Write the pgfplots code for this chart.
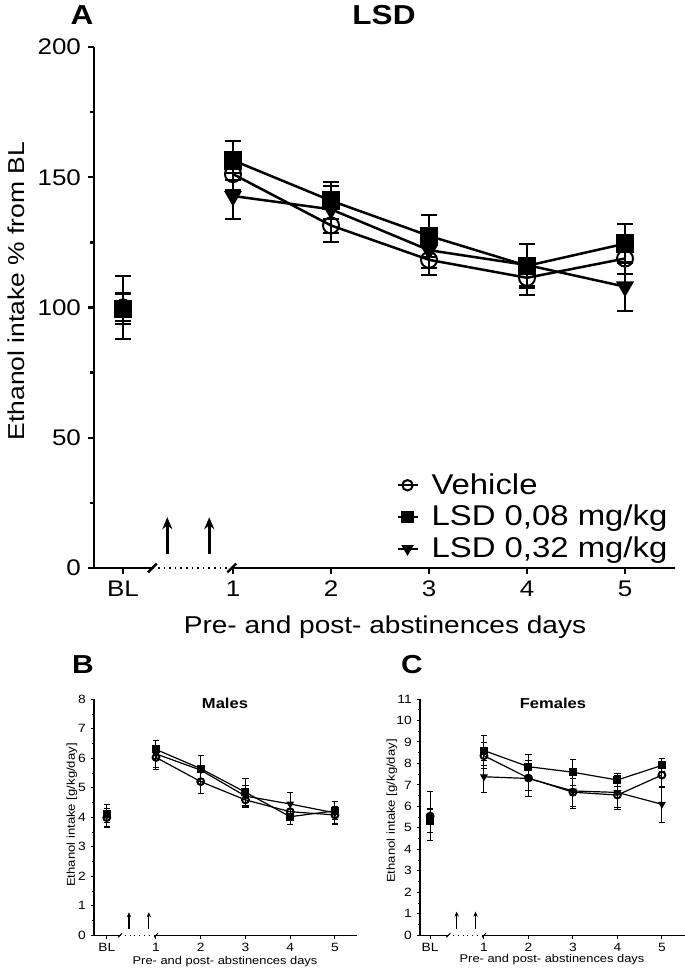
\documentclass[border=0pt]{standalone}
\usepackage{pgfplots}
\pgfplotsset{compat=1.18}
\usepackage{fontspec}
\setmainfont[FakeStretch=1.15]{Liberation Sans}
\usetikzlibrary{arrows.meta}
\pgfplotsset{
  serA/.style={black, line width=1.25pt, mark size=4pt,
    error bars/y dir=both, error bars/y explicit,
    error bars/error bar style={line width=1pt},
    error bars/error mark options={rotate=90, mark size=4pt, line width=1pt}},
  serB/.style={black, line width=0.6pt, mark size=1.7pt,
    error bars/y dir=both, error bars/y explicit,
    error bars/error bar style={line width=0.5pt},
    error bars/error mark options={rotate=90, mark size=1.6pt, line width=0.5pt}},
  veh/.style={mark=o, mark options={solid, line width=1pt}},
  low/.style={mark=square*, mark options={solid}},
  high/.style={mark=triangle*, mark options={solid, rotate=180}},
  small/.style={
    scale only axis, axis lines*=left, x axis line style={draw=none},
    y axis line style={line width=0.6pt},
    tick align=outside, major tick length=1.6pt, minor tick length=1pt,
    tick style={line width=0.5pt, black},
    tick label style={font=\fontsize{6}{7}\selectfont},
    /pgf/number format/assume math mode=true,
    xticklabel style={yshift=1pt}, yticklabel style={xshift=1pt},
    clip=false, unbounded coords=jump},
}
\begin{document}
\begin{tikzpicture}
\path[use as bounding box] (0,0) rectangle (342.5pt,485pt);
% ---------------- Panel A ----------------
\begin{axis}[
  at={(47pt,201pt)}, anchor=south west,
  scale only axis, width=290.5pt, height=260.5pt,
  xmin=-0.418, xmax=5.51, ymin=0, ymax=200,
  axis lines*=left, x axis line style={draw=none},
  y axis line style={line width=1.4pt},
  xtick={-0.122,1,2,3,4,5}, xticklabels={BL,1,2,3,4,5},
  ytick={0,50,100,150,200}, minor ytick={25,75,125,175},
  tick align=outside, major tick length=3pt, minor tick length=2pt,
  tick style={line width=1.2pt, black},
  tick label style={font=\fontsize{11.3}{13}\selectfont},
  /pgf/number format/assume math mode=true,
  clip=false, unbounded coords=jump,
  legend style={at={(axis description cs:0.52,0.19)}, anchor=north west,
    draw=none, fill=none, font=\fontsize{14.3}{16}\selectfont,
    inner sep=0pt, row sep=0pt,
    /tikz/every odd column/.append style={column sep=4.5pt}},
  legend cell align=left,
  legend image code/.code={\draw[mark repeat=2,mark phase=2,#1,mark size=2.6pt,line width=1pt] plot coordinates {(0pt,0pt)(5pt,0pt)(10pt,0pt)};},
]
\addplot+[serA, veh] table[y error=ey] {
x y ey
-0.122 100 5
0.5 nan 0
1 151.2 6
2 131.5 6.5
3 118.3 5.8
4 111.4 6.6
5 118.8 6
};
\addlegendentry{Vehicle}
\addplot+[serA, low] table[y error=ey] {
x y ey
-0.122 99.5 6
0.5 nan 0
1 156.5 7.5
2 141 7
3 127.5 8
4 116 8.5
5 124.5 7.5
};
\addlegendentry{LSD 0,08 mg/kg}
\addplot+[serA, high] table[y error=ey] {
x y ey
-0.122 100 12
0.5 nan 0
1 142.8 8.7
2 137.7 9
3 122 7
4 116.3 8
5 108 9.3
};
\addlegendentry{LSD 0,32 mg/kg}
% broken x axis
\draw[line width=1.4pt] (axis cs:-0.418,0) -- (axis cs:0.177,0);
\draw[line width=0.8pt, dotted] (axis cs:0.177,0) -- (axis cs:0.987,0);
\draw[line width=1.4pt] (axis cs:0.987,0) -- (axis cs:5.51,0);
\draw[line width=1.2pt] (axis cs:0.177,0) ++(-2.2pt,-2.2pt) -- ++(4.4pt,4.4pt);
\draw[line width=1.2pt] (axis cs:0.987,0) ++(-2.2pt,-2.2pt) -- ++(4.4pt,4.4pt);
\draw[line width=1.4pt, -{Stealth[length=6pt,width=5pt]}] (axis cs:0.33,5.4) -- (axis cs:0.33,19.5);
\draw[line width=1.4pt, -{Stealth[length=6pt,width=5pt]}] (axis cs:0.758,5.4) -- (axis cs:0.758,19.5);
\end{axis}
% ---------------- Panel B ----------------
\begin{axis}[small,
  at={(47pt,17.35pt)}, anchor=south west,
  width=131.65pt, height=118pt,
  xmin=-0.385, xmax=5.5, ymin=0, ymax=8,
  xtick={-0.10,1,2,3,4,5}, xticklabels={BL,1,2,3,4,5},
  ytick={0,1,...,8}, minor ytick={0.5,1.5,...,7.5},
]
\addplot+[serB, veh] table[y error=ey] {
x y ey
-0.10 3.99 0.3
0.5 nan 0
1 6.03 0.4
2 5.21 0.4
3 4.59 0.25
4 4.19 0.3
5 4.08 0.3
};
\addplot+[serB, low] table[y error=ey] {
x y ey
-0.10 4.12 0.3
0.5 nan 0
1 6.3 0.3
2 5.65 0.45
3 4.85 0.45
4 4.02 0.25
5 4.22 0.3
};
\addplot+[serB, high] table[y error=ey] {
x y ey
-0.10 4.05 0.4
0.5 nan 0
1 6.15 0.45
2 5.6 0.5
3 4.72 0.35
4 4.45 0.38
5 4.15 0.38
};
\draw[line width=0.6pt] (axis cs:-0.385,0) -- (axis cs:0.196,0);
\draw[line width=0.4pt, dotted] (axis cs:0.196,0) -- (axis cs:1,0);
\draw[line width=0.6pt] (axis cs:1,0) -- (axis cs:5.5,0);
\draw[line width=0.5pt] (axis cs:0.196,0) ++(-1pt,-1pt) -- ++(2pt,2pt);
\draw[line width=0.5pt] (axis cs:1,0) ++(-1pt,-1pt) -- ++(2pt,2pt);
\draw[line width=0.6pt, -{Stealth[length=2.5pt,width=2.2pt]}] (axis cs:0.397,0.2) -- (axis cs:0.397,0.78);
\draw[line width=0.6pt, -{Stealth[length=2.5pt,width=2.2pt]}] (axis cs:0.84,0.2) -- (axis cs:0.84,0.78);
\end{axis}
% ---------------- Panel C ----------------
\begin{axis}[small,
  at={(210pt,17.35pt)}, anchor=south west,
  width=132.5pt, height=118.15pt,
  xmin=-0.438, xmax=5.52, ymin=0, ymax=11,
  xtick={-0.21,1,2,3,4,5}, xticklabels={BL,1,2,3,4,5},
  ytick={0,1,...,11}, minor ytick={0.5,1.5,...,10.5},
]
\addplot+[serB, veh] table[y error=ey] {
x y ey
-0.21 5.55 0.35
0.5 nan 0
1 8.36 0.6
2 7.32 0.6
3 6.66 0.65
4 6.53 0.6
5 7.46 0.6
};
\addplot+[serB, low] table[y error=ey] {
x y ey
-0.21 5.32 0.55
0.5 nan 0
1 8.6 0.7
2 7.85 0.55
3 7.59 0.6
4 7.23 0.28
5 7.91 0.3
};
\addplot+[serB, high] table[y error=ey] {
x y ey
-0.21 5.55 1.15
0.5 nan 0
1 7.38 0.75
2 7.3 0.85
3 6.72 0.8
4 6.65 0.8
5 6.1 0.85
};
\draw[line width=0.6pt] (axis cs:-0.438,0) -- (axis cs:0.197,0);
\draw[line width=0.4pt, dotted] (axis cs:0.197,0) -- (axis cs:1,0);
\draw[line width=0.6pt] (axis cs:1,0) -- (axis cs:5.52,0);
\draw[line width=0.5pt] (axis cs:0.197,0) ++(-1pt,-1pt) -- ++(2pt,2pt);
\draw[line width=0.5pt] (axis cs:1,0) ++(-1pt,-1pt) -- ++(2pt,2pt);
\draw[line width=0.6pt, -{Stealth[length=2.5pt,width=2.2pt]}] (axis cs:0.386,0.3) -- (axis cs:0.386,1.1);
\draw[line width=0.6pt, -{Stealth[length=2.5pt,width=2.2pt]}] (axis cs:0.81,0.3) -- (axis cs:0.81,1.1);
\end{axis}
% ---------------- Texts ----------------
\node[font=\fontsize{13.7}{15}\selectfont\bfseries] at (41pt,477.5pt) {A};
\node[font=\fontsize{13.7}{15}\selectfont\bfseries] at (192pt,477.5pt) {LSD};
\node[font=\fontsize{11.5}{13}\selectfont, rotate=90] at (8pt,339.5pt) {Ethanol intake \% from BL};
\node[font=\fontsize{12.2}{14}\selectfont] at (192.5pt,171.5pt) {Pre- and post- abstinences days};
\node[font=\fontsize{13}{15}\selectfont\bfseries] at (41.5pt,152.5pt) {B};
\node[font=\fontsize{13}{15}\selectfont\bfseries] at (206pt,152.5pt) {C};
\node[font=\fontsize{7.2}{8}\selectfont\bfseries] at (112.5pt,133.5pt) {Males};
\node[font=\fontsize{7.2}{8}\selectfont\bfseries] at (276.5pt,133.5pt) {Females};
\node[font=\fontsize{5.7}{7}\selectfont, rotate=90] at (36pt,77.5pt) {Ethanol intake [g/kg/day]};
\node[font=\fontsize{5.7}{7}\selectfont, rotate=90] at (196pt,79.5pt) {Ethanol intake [g/kg/day]};
\node[font=\fontsize{5.6}{7}\selectfont] at (112.5pt,4pt) {Pre- and post- abstinences days};
\node[font=\fontsize{5.6}{7}\selectfont] at (276pt,5pt) {Pre- and post- abstinences days};
\end{tikzpicture}
\end{document}
